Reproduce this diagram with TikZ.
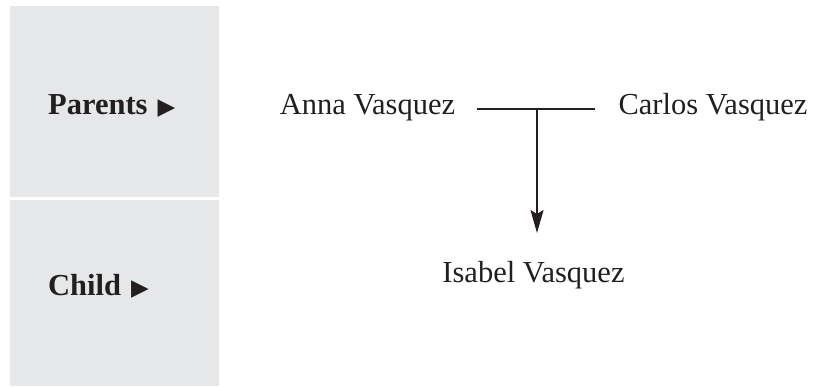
\documentclass[tikz,border=0pt]{standalone}
\usepackage{fontspec}
\setmainfont{Liberation Serif}
\newfontfamily\symfont{DejaVu Sans}
\usetikzlibrary{arrows.meta}
\definecolor{panelgray}{RGB}{230,231,233}
\definecolor{ink}{RGB}{35,31,32}
\tikzset{
  panel/.style={fill=panelgray, draw=none},
  person/.style={inner sep=0pt, font=\fontsize{30.5}{36}\selectfont, text=ink},
  rowlabel/.style={inner sep=0pt, anchor=base west, font=\fontsize{30.5}{36}\selectfont\bfseries, text=ink},
  link/.style={draw=ink, line width=1.8pt},
}
\newcommand{\marker}{{\symfont\fontsize{23}{23}\selectfont ▶}}
\begin{document}
\begin{tikzpicture}[x=1pt,y=-1pt]
\useasboundingbox (0,0) rectangle (814,386);
\fill[panel] (10,6) rectangle (219,197);
\fill[panel] (10,200) rectangle (219,386);
\node[rowlabel] (parents) at (48,114) {Parents\hspace{10pt}\marker};
\node[rowlabel] (child) at (48,295) {Child\hspace{10pt}\marker};
\node[person, anchor=base] (anna) at (367.5,114) {Anna Vasquez};
\node[person, anchor=base] (carlos) at (713,114) {Carlos Vasquez};
\node[person, anchor=base] (isabel) at (533.5,282) {Isabel Vasquez};
\coordinate (j) at (537,109);
\coordinate (tip) at (537,233);
\draw[link] ([xshift=22pt]anna.east |- j) -- ([xshift=-23pt]carlos.west |- j);
\draw[link, -{Stealth[length=23pt,width=13pt,inset=4pt]}] (j) -- (tip);
\end{tikzpicture}
\end{document}
